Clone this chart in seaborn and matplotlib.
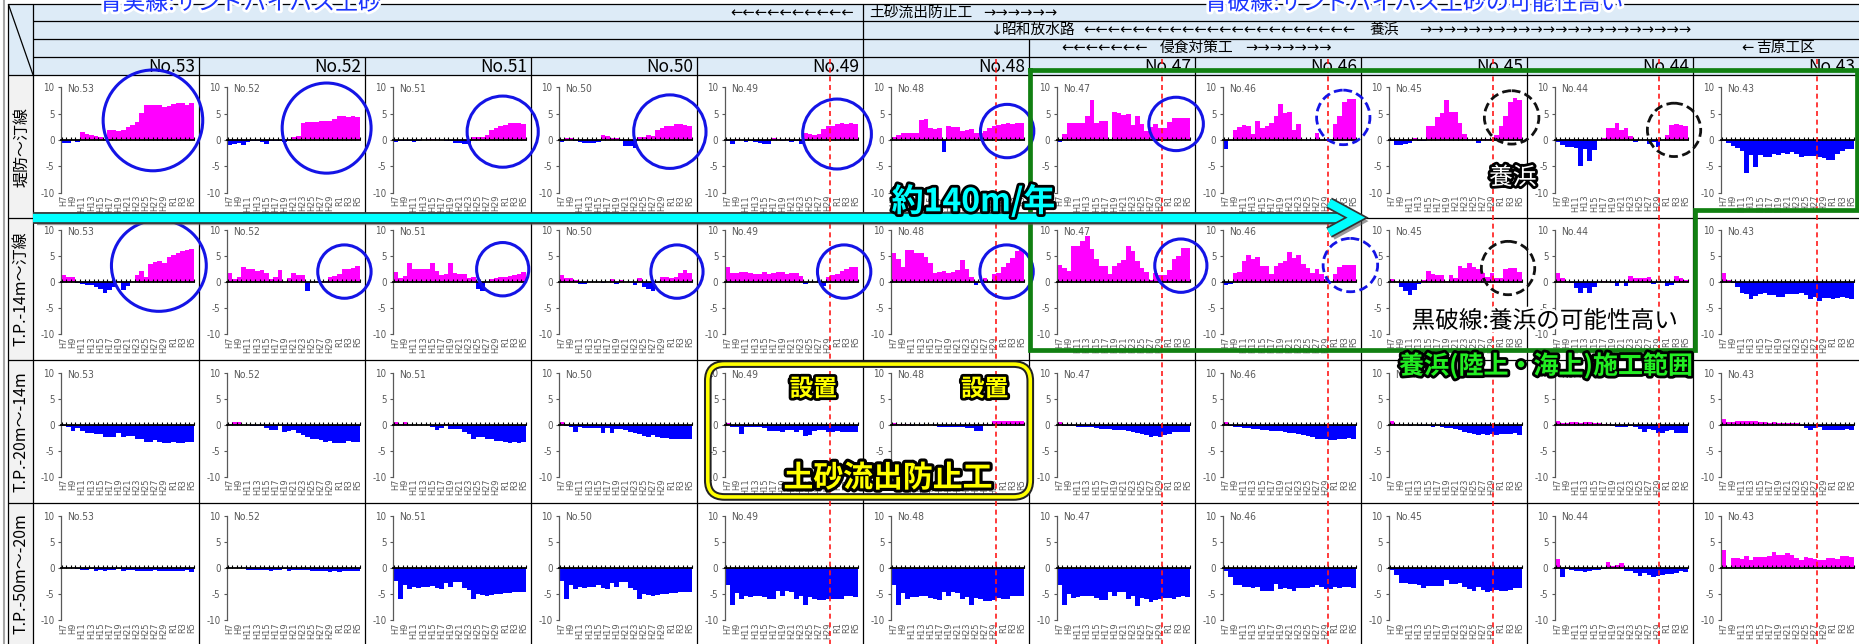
import numpy as np
import pandas as pd
import matplotlib
matplotlib.use("Agg")
import matplotlib.pyplot as plt
import seaborn as sns
from matplotlib import patches
from matplotlib import patheffects as pe
from matplotlib import font_manager as fm

# ---------------- data ----------------
STATIONS = ["No.53", "No.52", "No.51", "No.50", "No.49", "No.48",
            "No.47", "No.46", "No.45", "No.44", "No.43"]
YEARS = ["H%d" % y for y in range(7, 31)] + ["R%d" % y for y in range(1, 6)]
ROW_LABELS = ["堤防～汀線", "T.P.-14m～汀線", "T.P.-20m～-14m", "T.P.-50m～-20m"]

SHORE = {
    "No.53": [-0.5,-0.6,0.0,-0.3,1.5,1.1,0.9,0.7,0.5,0.2,2.0,2.0,1.7,2.0,2.4,2.9,3.5,5.2,6.6,6.6,6.7,6.7,6.3,6.4,6.8,7.0,7.1,6.7,7.1],
    "No.52": [-1.0,-0.8,-0.6,-0.9,-0.3,-0.2,-0.2,-0.3,-0.7,-0.2,-0.1,-0.2,-0.3,0.2,0.6,0.8,3.3,3.4,3.5,3.5,3.7,3.7,3.6,4.0,4.6,4.5,4.3,4.6,4.3],
    "No.51": [-0.3,-0.2,-0.1,-0.1,-0.3,-0.1,0.1,0.2,0.2,0.1,0.1,-0.1,-0.2,-0.5,-0.6,-0.8,-0.7,0.5,0.5,0.6,0.9,2.0,2.3,2.6,2.9,3.2,3.3,3.3,3.1],
    "No.50": [-0.3,0.3,0.3,-0.1,-0.4,-0.6,-0.6,-0.6,-0.4,0.9,0.7,0.4,0.3,-0.1,-1.1,-1.2,-1.5,0.5,0.6,0.9,0.7,2.0,2.3,2.6,2.7,3.0,3.0,2.9,2.7],
    "No.49": [-0.1,-0.7,0.2,0.1,-0.3,-0.2,-0.4,-0.6,-0.7,-0.7,0.3,0.2,-0.2,0.2,-0.3,-0.2,-0.8,1.4,1.1,0.9,1.2,2.1,2.6,2.7,3.1,3.3,3.1,3.2,3.0],
    "No.48": [0.5,1.0,1.4,1.3,1.4,1.3,3.8,3.9,2.2,2.1,2.2,-2.3,2.6,2.5,2.5,1.7,1.9,2.1,1.4,1.3,1.8,2.2,2.6,2.9,3.1,3.3,3.1,3.3,3.2],
    "No.47": [-0.3,1.2,3.2,3.2,3.2,3.3,4.6,7.6,3.3,3.6,3.6,0.2,5.4,5.1,4.8,4.9,2.8,4.5,3.0,1.8,2.4,3.0,2.2,2.3,3.5,4.2,4.2,4.1,4.2],
    "No.46": [-1.6,0.1,2.0,2.4,2.8,2.6,1.1,3.6,2.3,2.6,3.3,4.6,6.8,5.1,5.4,2.0,3.0,0.1,0.1,0.1,1.3,0.1,0.1,0.1,3.0,4.5,7.2,7.7,7.7],
    "No.45": [-0.1,-1.0,-1.0,-0.7,-0.5,0.4,-0.2,-0.2,2.7,2.7,4.3,5.2,7.6,5.3,5.4,3.2,1.2,0.1,0.1,-0.5,0.2,0.2,0.2,1.0,2.7,4.6,7.3,7.9,7.6],
    "No.44": [-0.4,-1.0,-1.3,-1.4,-1.5,-5.0,-1.6,-4.0,-1.8,0.0,0.4,2.3,2.3,3.2,2.0,2.3,0.7,-0.3,0.1,0.1,-0.8,-0.4,-1.3,0.1,1.0,2.8,3.0,2.9,2.6],
    "No.43": [-0.2,-0.6,-1.1,-1.5,-2.0,-6.2,-2.9,-5.1,-2.8,-3.2,-3.2,-2.6,-2.9,-2.4,-2.6,-2.3,-2.6,-3.2,-3.1,-3.0,-3.1,-3.2,-3.4,-3.8,-3.8,-2.6,-2.0,-1.6,-1.7],
}
TP14 = {
    "No.53": [1.4,1.1,1.1,-0.1,-0.4,-0.5,-0.6,-0.9,-1.3,-2.0,-1.4,-0.9,0.1,-1.5,-0.8,0.1,1.4,2.1,1.0,3.5,3.9,4.1,3.6,4.9,5.3,5.6,6.0,6.1,6.3],
    "No.52": [1.8,0.7,1.1,3.0,2.5,2.6,2.2,2.4,1.8,0.7,1.0,2.4,0.1,0.9,1.7,1.3,1.4,-1.7,0.1,0.1,0.2,0.2,1.0,1.2,1.6,2.6,2.6,2.8,3.2],
    "No.51": [2.0,0.9,1.2,3.6,2.6,2.6,2.5,2.6,3.6,2.1,1.3,1.6,3.6,1.7,1.6,1.5,0.9,1.0,-1.3,-1.6,0.1,0.7,0.9,1.0,1.0,1.2,1.4,1.6,1.9],
    "No.50": [1.4,0.9,0.9,0.4,-0.4,-0.4,0.1,0.1,0.1,-0.2,0.1,0.7,-0.4,0.5,0.1,0.1,-0.5,0.9,-1.0,-1.3,-1.7,0.1,1.1,1.1,0.8,1.0,1.8,2.3,1.7],
    "No.49": [3.0,1.8,1.8,1.9,1.9,1.7,1.6,1.6,2.0,1.6,1.7,2.0,2.0,1.5,1.8,1.8,1.2,-0.3,0.1,0.1,0.1,-0.7,1.0,1.3,1.5,2.2,2.5,3.0,3.0],
    "No.48": [5.7,4.4,3.0,6.1,6.1,5.6,5.7,4.9,3.6,1.8,1.9,2.1,1.8,2.0,2.4,4.2,2.5,1.0,-0.5,0.1,0.8,0.1,1.5,1.8,2.9,3.7,4.6,6.0,6.1],
    "No.47": [3.3,2.8,2.2,6.9,7.0,8.0,8.8,6.3,4.5,3.2,3.2,1.5,3.1,3.6,4.2,7.0,5.9,4.0,2.8,1.9,0.4,1.7,1.3,1.3,2.4,4.4,5.1,6.6,6.5],
    "No.46": [-0.6,-0.3,1.7,2.0,4.0,5.2,4.5,4.8,3.1,3.1,1.6,3.1,3.6,4.1,5.8,4.6,5.2,3.5,2.8,1.7,2.5,1.6,0.7,0.1,1.5,3.0,3.4,3.4,3.3],
    "No.45": [0.6,0.1,-1.0,-1.7,-2.5,-1.5,-0.3,0.4,2.1,1.5,1.3,1.4,0.3,1.3,0.9,3.2,2.8,3.6,3.0,2.6,1.8,1.0,1.7,0.9,0.9,2.5,2.8,2.8,1.9],
    "No.44": [1.8,0.8,0.1,-0.1,-1.1,-2.0,-1.1,-2.1,-1.0,0.1,0.3,0.1,-0.2,-0.7,0.1,-0.8,1.2,0.8,0.9,0.9,1.0,-0.3,0.1,0.1,-0.7,-0.5,1.2,0.9,0.4],
    "No.43": [1.8,0.4,-0.2,-1.0,-2.0,-2.3,-3.3,-2.6,-2.2,-2.1,-2.5,-2.4,-2.8,-2.9,-2.3,-2.2,-2.2,-2.1,-2.4,-3.3,-2.9,-3.5,-3.1,-3.0,-3.3,-3.0,-2.9,-3.1,-3.2],
}
TP20 = {
    "No.53": [-0.2,-0.5,-1.1,-0.6,-1.2,-1.6,-1.6,-1.7,-1.8,-2.3,-2.3,-2.3,-1.6,-2.3,-2.1,-2.1,-2.7,-2.7,-3.3,-3.3,-3.0,-3.3,-3.5,-3.5,-3.3,-3.5,-3.5,-3.3,-3.3],
    "No.52": [0.2,0.6,0.5,-0.1,-0.1,-0.3,-0.3,-0.3,-0.6,-0.9,-0.9,-0.1,-1.3,-1.1,-0.9,-1.5,-1.9,-2.4,-2.8,-2.8,-3.0,-3.3,-3.2,-3.5,-3.5,-3.5,-3.1,-3.3,-3.3],
    "No.51": [0.6,0.1,0.6,-0.1,-0.1,-0.1,-0.1,-0.1,-0.4,-0.9,-0.6,0.1,-0.8,-0.7,-0.7,-1.3,-1.8,-2.7,-2.4,-2.3,-2.7,-2.8,-3.2,-3.1,-3.3,-3.4,-3.3,-3.5,-3.3],
    "No.50": [0.6,-0.3,-0.5,-1.4,-0.5,-0.6,-0.6,-0.6,-0.6,-1.5,-0.6,-1.5,-0.7,-0.8,-0.9,-1.3,-1.6,-1.8,-2.1,-2.4,-2.0,-2.4,-2.6,-2.6,-2.8,-2.7,-2.8,-2.8,-2.8],
    "No.49": [0.4,-0.4,-0.4,-1.7,-0.5,-0.5,-0.5,-0.5,-0.6,-1.2,-1.2,-1.1,-1.3,-1.0,-1.0,-1.4,-1.0,-2.2,-1.9,-1.2,-0.9,-0.9,-1.3,-1.4,-1.2,-1.3,-1.3,-1.3,-1.3],
    "No.48": [0.4,0.1,0.1,0.1,-0.2,-0.1,-0.3,-0.1,-0.1,-0.3,-0.4,-0.4,-0.4,-0.4,-0.4,-0.4,-0.6,-0.6,-1.1,-1.1,0.1,-0.3,0.8,0.8,0.8,0.8,0.8,0.8,0.8],
    "No.47": [0.5,-0.3,-0.3,-0.3,-0.4,-0.5,-0.5,-0.5,-0.6,-0.7,-0.7,-0.8,-0.9,-0.9,-0.9,-1.2,-1.4,-1.6,-1.8,-2.0,-2.3,-2.2,-2.4,-2.0,-1.8,-1.4,-1.3,-1.3,-1.4],
    "No.46": [0.5,-0.3,-0.4,-0.5,-0.6,-0.6,-0.7,-0.8,-0.9,-1.0,-1.1,-1.1,-1.2,-1.3,-1.5,-1.5,-1.8,-2.0,-2.1,-2.3,-2.7,-2.8,-2.7,-2.9,-2.9,-2.8,-2.7,-2.6,-2.7],
    "No.45": [0.7,0.1,-0.1,-0.1,-0.2,-0.1,-0.2,-0.2,-0.3,-0.4,-0.3,-0.4,-0.6,-0.6,-0.8,-1.0,-1.3,-1.6,-1.7,-1.9,-1.8,-1.9,-1.8,-1.9,-1.7,-1.7,-1.8,-1.6,-1.9],
    "No.44": [0.8,0.4,0.4,0.5,0.5,0.4,0.6,0.5,0.3,0.3,0.2,0.1,-0.3,-0.4,-0.5,-0.5,-0.3,-0.4,-0.7,-1.4,-0.7,-1.0,-1.5,-1.6,-1.1,-1.0,-1.5,-1.5,-1.5],
    "No.43": [1.2,0.6,0.6,0.7,0.7,0.8,0.7,0.8,0.5,0.5,0.4,0.5,0.4,0.4,0.3,0.3,0.3,-0.2,-0.6,-0.9,-0.6,-0.5,-0.9,-0.9,-0.9,-0.9,-0.9,-0.8,-0.9],
}
TP50 = {
    "No.53": [0.0,0.0,0.0,-0.1,-0.3,-0.4,-0.2,-0.5,-0.4,-0.5,-0.4,-0.3,-0.1,-0.5,-0.4,-0.4,-0.5,-0.5,-0.5,-0.5,-0.4,-0.5,-0.5,-0.5,-0.5,-0.5,-0.5,-0.4,-0.7],
    "No.52": [0.0,0.0,0.1,0.1,-0.3,-0.3,-0.3,-0.3,-0.3,-0.5,-0.3,-0.3,-0.1,-0.5,-0.3,-0.3,-0.4,-0.4,-0.5,-0.5,-0.5,-0.6,-0.8,-0.6,-0.8,-0.6,-0.6,-0.6,-0.6],
    "No.51": [-2.4,-5.9,-3.3,-4.0,-3.7,-3.8,-3.7,-3.6,-3.4,-3.8,-4.0,-2.9,-3.6,-2.7,-2.7,-3.8,-4.2,-5.9,-5.0,-5.1,-5.3,-5.1,-4.9,-4.9,-4.8,-4.8,-4.6,-4.6,-4.5],
    "No.50": [-2.4,-5.9,-3.3,-4.0,-3.6,-3.8,-3.6,-3.6,-3.3,-3.8,-4.0,-2.9,-3.6,-2.7,-2.7,-3.9,-4.2,-5.9,-5.0,-5.2,-5.3,-5.1,-5.0,-4.9,-4.8,-4.8,-4.6,-4.6,-4.5],
    "No.49": [-3.2,-7.0,-4.8,-5.9,-5.4,-5.5,-5.3,-5.4,-5.6,-5.9,-6.0,-4.4,-5.3,-4.4,-4.6,-5.9,-5.4,-7.0,-5.6,-5.9,-6.2,-6.2,-6.0,-5.9,-5.9,-5.9,-5.4,-5.4,-5.5],
    "No.48": [-3.3,-7.1,-4.8,-6.0,-5.5,-5.6,-5.3,-5.4,-5.7,-6.0,-6.2,-4.5,-5.4,-4.5,-4.7,-6.0,-5.5,-7.1,-5.8,-6.0,-6.3,-6.3,-6.1,-5.8,-5.9,-5.9,-5.4,-5.4,-5.4],
    "No.47": [-3.2,-7.0,-5.0,-5.8,-5.5,-5.4,-5.4,-5.4,-5.7,-6.1,-6.1,-4.5,-5.4,-4.5,-4.6,-5.9,-5.4,-7.3,-5.8,-6.0,-6.5,-6.2,-5.9,-5.8,-5.8,-5.9,-5.6,-5.4,-5.5],
    "No.46": [-0.6,-1.8,-3.3,-3.3,-3.6,-3.6,-3.8,-3.7,-4.3,-4.3,-4.3,-3.1,-4.1,-3.9,-4.1,-4.3,-3.9,-3.8,-3.8,-3.6,-3.3,-3.6,-4.0,-4.0,-3.7,-3.8,-3.6,-3.6,-3.8],
    "No.45": [-0.3,-1.4,-2.8,-2.8,-3.1,-3.1,-3.3,-3.8,-3.4,-3.4,-3.4,-3.4,-2.3,-3.1,-3.1,-2.8,-3.7,-4.1,-4.4,-3.6,-4.2,-4.5,-4.3,-4.2,-4.3,-4.3,-4.2,-3.9,-3.9],
    "No.44": [1.7,-1.8,-0.2,-0.4,-0.6,-0.5,-0.8,-0.5,-0.4,-0.3,-0.2,1.1,0.4,0.6,0.9,-0.5,-0.6,-0.9,-1.6,-1.0,-1.3,-1.7,-1.5,-1.4,-1.2,-1.1,-1.0,-0.6,-0.7],
    "No.43": [3.5,0.2,1.9,1.9,1.8,2.3,1.6,2.1,2.1,2.2,2.3,3.0,2.5,2.6,2.9,2.6,2.0,1.6,2.1,2.0,1.7,1.5,1.6,2.0,1.9,1.8,2.3,2.3,2.1],
}
ROWS = [SHORE, TP14, TP20, TP50]
# red dashed line position (category index) per station
RED_LINE = {"No.49": 22.4, "No.48": 22.5, "No.47": 22.4, "No.46": 22.5,
            "No.45": 22.3, "No.44": 22.3, "No.43": 20.4}

# ---------------- fonts / colors ----------------
avail = {f.name for f in fm.fontManager.ttflist}
def pick(*names):
    for n in names:
        if n in avail:
            return n
    return "DejaVu Sans"
JP = pick("Noto Sans CJK JP", "Noto Sans CJK SC")
NARROW = pick("Liberation Sans Narrow")
NARROW_KW = {"family": NARROW} if NARROW != "DejaVu Sans" else {"family": "DejaVu Sans", "stretch": "condensed"}
plt.rcParams["font.family"] = [JP, "DejaVu Sans"]

MAGENTA = "#FF00FF"
BLUE = "#0000FF"
GRAY = "#595959"
HEAD_BG = "#DDEBF7"

# ---------------- figure ----------------
W, H = 1568.0, 543.0
fig = plt.figure(figsize=(18.59, 6.44), dpi=100)
fig.patch.set_facecolor("white")

bg = fig.add_axes([0, 0, 1, 1], zorder=0)
bg.set_xlim(0, W); bg.set_ylim(H, 0); bg.axis("off")

TOP, HA, HB, HC, HD = 3.4, 18.0, 33.0, 48.0, 63.5
ROW_EDGES = [63.5, 184.0, 303.5, 424.5, 543.0]
LEFT0, LEFT1 = 7.0, 28.0
COLW = 140.0
col_x = [LEFT1 + COLW * i for i in range(12)]

bg.add_patch(patches.Rectangle((LEFT0, TOP), W - LEFT0, HD - TOP, fc=HEAD_BG, ec="none"))
bg.add_patch(patches.Rectangle((LEFT0, HD), LEFT1 - LEFT0, H - HD, fc="#F2F2F2", ec="none"))
lk = dict(color="black", lw=0.9, solid_capstyle="butt")
bg.plot([3.5, 3.5], [0, H], color="#A6A6A6", lw=1.5)
bg.plot([LEFT0, W], [TOP, TOP], **lk)
for yy in (HA, HB, HC):
    bg.plot([LEFT1, W], [yy, yy], **lk)
for yy in ROW_EDGES[:-1]:
    bg.plot([LEFT0, W], [yy, yy], **lk)
bg.plot([LEFT0, LEFT0], [TOP, H], **lk)
bg.plot([LEFT1, LEFT1], [TOP, H], **lk)
bg.plot([LEFT0, LEFT1], [TOP, HD], **lk)
for i in range(1, 11):
    x = col_x[i]
    y0 = HC
    if i == 5:
        y0 = TOP
    elif i == 6:
        y0 = HB
    bg.plot([x, x], [y0, H], **lk)

# header texts
hdr = dict(fontsize=10.6, va="center", color="black")
arw = dict(fontsize=10.6, va="center", color="black", family="DejaVu Sans")
yA, yB, yC, yD = (TOP + HA) / 2, (HA + HB) / 2, (HB + HC) / 2, (HC + HD) / 2
bg.text(720, yA, "←" * 10, ha="right", **arw)
bg.text(733, yA, "土砂流出防止工", ha="left", **hdr)
bg.text(829, yA, "→" * 6, ha="left", **arw)
bg.text(835, yB, "↓", ha="left", **arw)
bg.text(845, yB, "昭和放水路", ha="left", **hdr)
bg.text(914, yB, "←" * 22, ha="left", **arw)
bg.text(1155, yB, "養浜", ha="left", **hdr)
bg.text(1197, yB, "→" * 22, ha="left", **arw)
bg.text(895, yC, "←" * 7, ha="left", **arw)
bg.text(978, yC, "侵食対策工", ha="left", **hdr)
bg.text(1050, yC, "→" * 7, ha="left", **arw)
bg.text(1469, yC, "←", ha="left", **arw)
bg.text(1481, yC, "吉原工区", ha="left", **hdr)
for i, st in enumerate(STATIONS):
    bg.text(col_x[i + 1] - 3, yD + 0.5, st, ha="right", va="center", fontsize=12.5, color="black")
for r, lab in enumerate(ROW_LABELS):
    bg.text((LEFT0 + LEFT1) / 2 + 0.5, (ROW_EDGES[r] + ROW_EDGES[r + 1]) / 2, lab,
            rotation=90, ha="center", va="center", fontsize=11.5, color="black")

# ---------------- panels ----------------
AX_Y = [(73.6, 162.6), (194.0, 282.0), (314.5, 402.0), (435.0, 523.0)]
panel_axes = {}
for r, rowdata in enumerate(ROWS):
    top, bot = AX_Y[r]
    for c, st in enumerate(STATIONS):
        x0 = col_x[c]
        ax = fig.add_axes([(x0 + 23.3) / W, 1 - bot / H, 112.2 / W, (bot - top) / H], zorder=1)
        vals = np.array(rowdata[st], dtype=float)
        df = pd.DataFrame({"year": YEARS, "v": vals})
        df["sign"] = np.where(df["v"] >= 0, "pos", "neg")
        sns.barplot(data=df, x="year", y="v", hue="sign", order=YEARS,
                    hue_order=["pos", "neg"], palette={"pos": MAGENTA, "neg": BLUE},
                    dodge=False, width=1.0, saturation=1, errorbar=None,
                    legend=False, edgecolor="none", linewidth=0, ax=ax)
        ax.set_xlim(-0.7, 28.5)
        ax.set_ylim(-10, 10)
        ax.set_facecolor("none")
        ax.set_xlabel(""); ax.set_ylabel("")
        for s in ("top", "right", "bottom"):
            ax.spines[s].set_visible(False)
        ax.spines["left"].set_color(GRAY)
        ax.spines["left"].set_linewidth(0.9)
        ax.set_yticks([-10, -5, 0, 5, 10])
        ax.set_yticklabels(["-10", "-5", "0", "5", "10"], **NARROW_KW)
        ax.tick_params(axis="y", length=2.5, width=0.8, color=GRAY, labelcolor=GRAY,
                       labelsize=7, pad=2)
        ax.set_xticks(range(0, 29, 2))
        ax.set_xticklabels(YEARS[::2], rotation=90, fontsize=6.6, color=GRAY, **NARROW_KW)
        ax.tick_params(axis="x", length=0, pad=1.5)
        sec = ax.secondary_xaxis(0.5)
        sec.set_zorder(5)
        sec.set_xticks(np.arange(-0.5, 29.0, 1.0))
        sec.tick_params(axis="x", direction="out", length=2.5, width=0.8, color="black",
                        labeltop=False, labelbottom=False)
        for sp in sec.spines.values():
            sp.set_color("black")
            sp.set_linewidth(1.3)
        ax.text(0.045, 0.985, st, transform=ax.transAxes, ha="left", va="center",
                fontsize=7.4, color=GRAY, **NARROW_KW)
        panel_axes[(r, st)] = ax

# ---------------- overlay annotations ----------------
ov = fig.add_axes([0, 0, 1, 1], zorder=10)
ov.set_xlim(0, W); ov.set_ylim(H, 0); ov.axis("off")
ov.patch.set_alpha(0)

inv = ov.transData.inverted()
for st, xd in RED_LINE.items():
    xdisp = panel_axes[(0, st)].transData.transform((xd, 0))[0]
    xr = inv.transform((xdisp, 0))[0]
    ov.plot([xr, xr], [50, H], color="#FF1A1A", lw=1.2, ls=(0, (3, 2.2)), zorder=2)

# circles
CIRCLES = [
    (129, 101.5, 84, 85, "b"), (275.5, 108, 75, 76, "b"), (424, 111, 60, 60, "b"),
    (565, 111, 61, 62, "b"), (706, 113, 58, 59, "b"), (849.5, 110.5, 45, 45, "b"),
    (992, 104.5, 46, 45, "b"), (1133, 99, 45, 46, "bd"), (1275, 99, 46, 45, "kd"),
    (1412, 109.5, 45, 45, "kd"),
    (134, 224, 80, 77, "b"), (290.5, 229, 45, 45, "b"), (424, 227, 44, 45, "b"),
    (571, 229, 44, 45, "b"), (712, 229, 45, 45, "b"), (849, 229, 45, 45, "b"),
    (996, 224, 44, 45, "b"), (1139, 223.5, 46, 45, "bd"), (1272, 226, 45, 45, "kd"),
]
for cx, cy, w, h, sty in CIRCLES:
    if sty == "b":
        kw = dict(ec="#1414E6", lw=2.2, ls="-")
    elif sty == "bd":
        kw = dict(ec="#1414E6", lw=2.0, ls=(0, (3.2, 1.6)))
    else:
        kw = dict(ec="#111111", lw=2.0, ls=(0, (3.2, 1.6)))
    ov.add_patch(patches.Ellipse((cx, cy), w, h, fc="none", zorder=4, **kw))

# green area
gx = [869, 1566, 1566, 1430, 1430, 869, 869]
gy = [59, 59, 177, 177, 295.5, 295.5, 59]
ov.plot(gx, gy, color="#118011", lw=3.4, solid_joinstyle="miter", zorder=5)

# yellow rounded box
ybox = patches.FancyBboxPatch((597, 307), 272, 112, boxstyle="round,pad=0,rounding_size=14",
                              fc="none", ec="#FFFF00", lw=2.6, zorder=6,
                              path_effects=[pe.Stroke(linewidth=5.5, foreground="#222222"), pe.Normal()])
ov.add_patch(ybox)

# cyan arrow
arrow_pe = [pe.SimpleLineShadow(offset=(2.5, -2.5), shadow_color="#555555", alpha=0.6),
            pe.Stroke(linewidth=8.5, foreground="#333333"), pe.Normal()]
ov.plot([28, 1137], [183.5, 183.5], color="#00FFFF", lw=6, solid_capstyle="butt",
        path_effects=arrow_pe, zorder=7)
ov.plot([1121, 1144, 1121], [171, 183.5, 196], color="#00FFFF", lw=6,
        solid_joinstyle="miter", solid_capstyle="butt", path_effects=arrow_pe, zorder=7)

def otext(x, y, s, color, stroke, size, weight="normal", slw=3.5, ha="center"):
    ov.text(x, y, s, color=color, fontsize=size, fontweight=weight, ha=ha, va="center",
            zorder=9, path_effects=[pe.withStroke(linewidth=slw, foreground=stroke)])

otext(84, 2.8, "青実線:サンドバイパス土砂", "#1A33FF", "white", 16.5, ha="left", slw=4)
otext(1016, 2.8, "青破線:サンドバイパス土砂の可能性高い", "#1A33FF", "white", 16.5, ha="left", slw=4)
otext(821, 170, "約140m/年", "#00FFFF", "black", 23, weight="bold", slw=4)
otext(1276, 150, "養浜", "white", "black", 17, slw=4)
otext(1303, 271, "黒破線:養浜の可能性高い", "black", "white", 17, slw=4)
otext(1304, 308, "養浜(陸上・海上)施工範囲", "#22EE22", "black", 18, weight="bold", slw=4)
otext(686, 328, "設置", "#FFFF00", "black", 17, weight="bold", slw=4)
otext(830.5, 328, "設置", "#FFFF00", "black", 17, weight="bold", slw=4)
otext(749, 403, "土砂流出防止工", "#FFFF00", "black", 21.5, weight="bold", slw=4.5)

fig.savefig("out.png", dpi=100, facecolor="white")
